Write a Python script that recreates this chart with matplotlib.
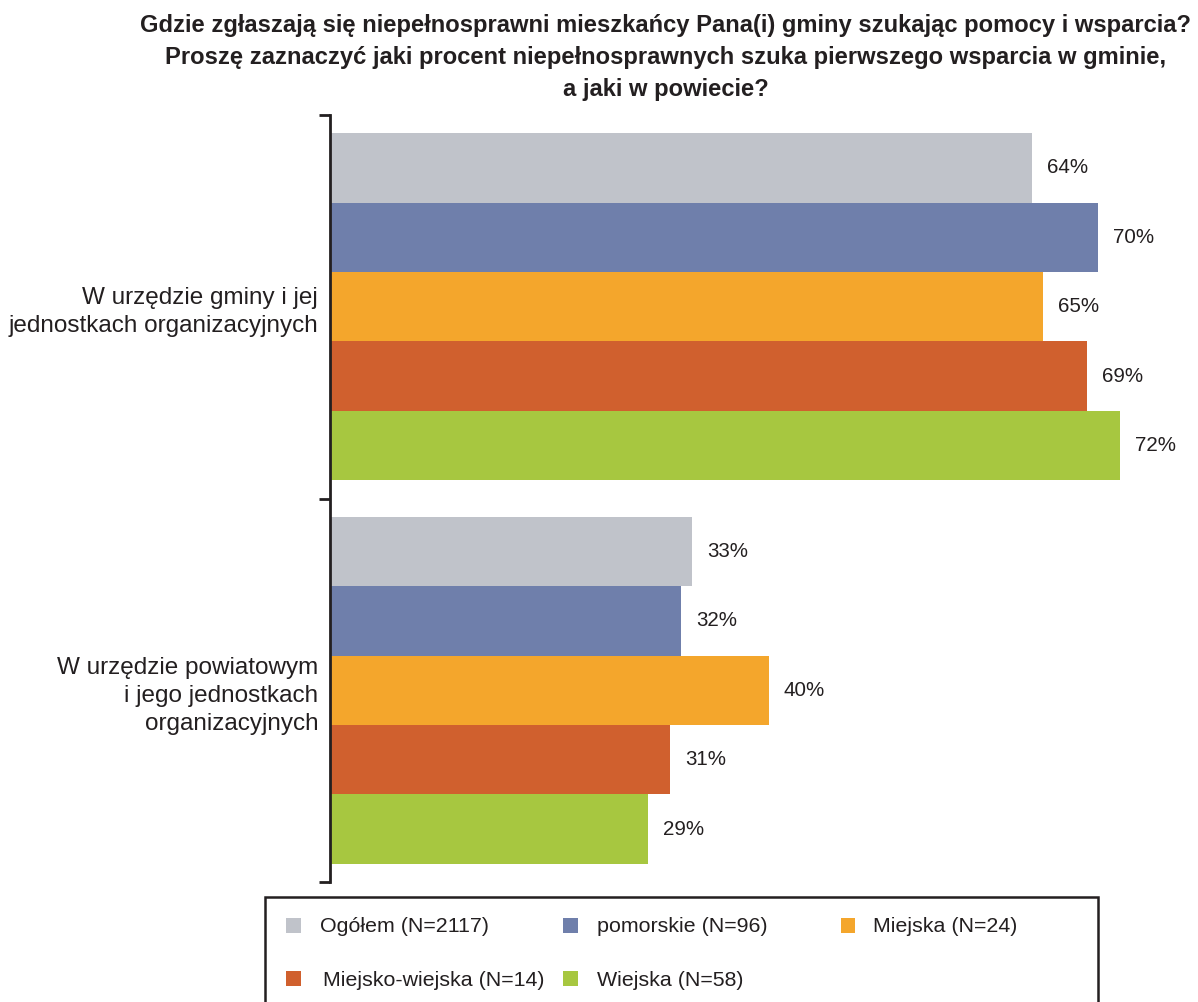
import matplotlib
matplotlib.use("Agg")
import matplotlib.pyplot as plt
from matplotlib.patches import Rectangle
import numpy as np

plt.rcParams['font.family'] = ['Liberation Sans', 'DejaVu Sans']

title = ("Gdzie zgłaszają się niepełnosprawni mieszkańcy Pana(i) gminy szukając pomocy i wsparcia?\n"
         "Proszę zaznaczyć jaki procent niepełnosprawnych szuka pierwszego wsparcia w gminie,\n"
         "a jaki w powiecie?")
categories = ["W urzędzie gminy i jej\njednostkach organizacyjnych",
              "W urzędzie powiatowym\ni jego jednostkach\norganizacyjnych"]
series_names = ["Ogółem (N=2117)", "pomorskie (N=96)", "Miejska (N=24)",
                "Miejsko-wiejska (N=14)", "Wiejska (N=58)"]
values = {
    "Ogółem (N=2117)": [64, 33],
    "pomorskie (N=96)": [70, 32],
    "Miejska (N=24)": [65, 40],
    "Miejsko-wiejska (N=14)": [69, 31],
    "Wiejska (N=58)": [72, 29],
}
colors = ["#c0c3ca", "#6f7fab", "#f4a62c", "#d0602e", "#a7c740"]
TXT = '#231f20'

W, H = 1198, 1002
fig = plt.figure(figsize=(W / 100, H / 100), dpi=100)
ax = fig.add_axes([330 / W, 1 - 882 / H, (W - 330) / W, (882 - 115) / H])

bar_h = 0.181
n = len(series_names)
y = np.arange(len(categories))
for i, (name, c) in enumerate(zip(series_names, colors)):
    pos = y - n * bar_h / 2 + bar_h * (i + 0.5)
    vals = values[name]
    ax.barh(pos, vals, height=bar_h, color=c, edgecolor='none', label=name)
    for p, v in zip(pos, vals):
        ax.text(v + 1.35, p, f"{v}%", va='center', ha='left', fontsize=14.8, color=TXT)

ax.set_xlim(0, (W - 330) / 10.97)
ax.set_ylim(1.5, -0.5)
for s in ['top', 'right', 'bottom']:
    ax.spines[s].set_visible(False)
ax.spines['left'].set_linewidth(2)
ax.spines['left'].set_color(TXT)
ax.set_xticks([])
ax.set_yticks(y)
ax.set_yticklabels(categories, fontsize=17.5, color=TXT, ha='right', linespacing=1.36)
ax.tick_params(axis='y', which='major', length=0, pad=8.5)
ax.set_yticks([-0.5, 0.5, 1.5], minor=True)
ax.tick_params(axis='y', which='minor', length=8, width=2, color=TXT)

fig.text(666 / W, 1 - 14 / H, title, ha='center', va='top', fontsize=17.1, fontweight='bold',
         color=TXT, linespacing=1.5)

# legend box
fig.patches.append(Rectangle((265 / W, -0.05), (1098 - 265) / W, 0.05 + (1 - 897 / H),
                             transform=fig.transFigure, fill=False, edgecolor=TXT, lw=1.8))
# legend entries (row-wise layout as in the reference)
leg_marker_x = [293, 570, 848, 293, 570]
leg_text_x = [320, 597, 873, 323, 597]
leg_row_y = [925, 925, 925, 978, 978]
msz = 15
for k, (name, c) in enumerate(zip(series_names, colors)):
    mx, my = leg_marker_x[k], leg_row_y[k]
    fig.patches.append(Rectangle(((mx - msz / 2) / W, 1 - (my + msz / 2) / H), msz / W, msz / H,
                                 transform=fig.transFigure, facecolor=c, edgecolor='none'))
    fig.text(leg_text_x[k] / W, 1 - my / H, name, ha='left', va='center_baseline',
             fontsize=15.4, color=TXT)

fig.savefig("out.png", dpi=100)
